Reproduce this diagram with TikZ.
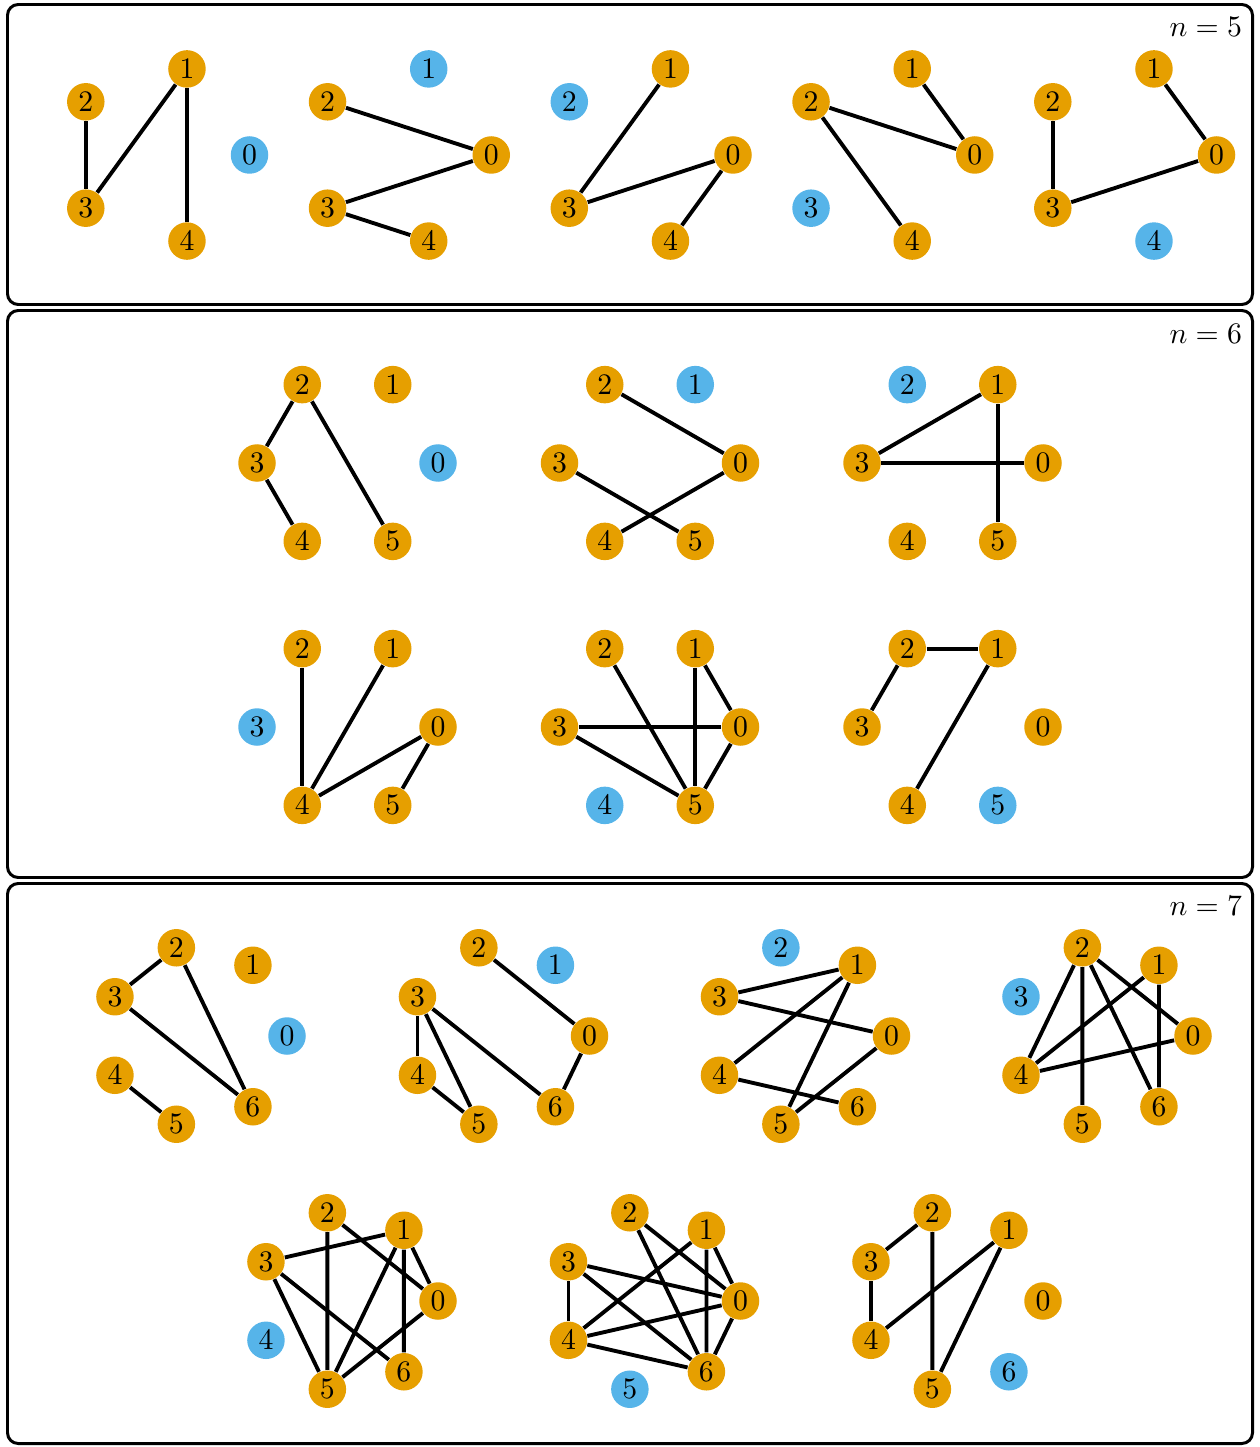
\documentclass[tikz,border=0pt]{standalone}
\usetikzlibrary{calc}
\definecolor{vorange}{HTML}{E69F00}
\definecolor{vblue}{HTML}{56B4E9}
\tikzset{
  ov/.style={circle, fill=vorange, inner sep=0pt, minimum size=12.6pt},
  bv/.style={circle, fill=vblue, inner sep=0pt, minimum size=12.6pt},
  edge/.style={line width=1.3pt, black},
  frame/.style={line width=1pt, rounded corners=3.6pt},
  lab/.style={anchor=north east, inner sep=0pt}
}
\newcommand\graphat[6]{%
  \begin{scope}[shift={(#1,#2)}, name prefix=#5-]
    \pgfmathtruncatemacro\nmax{#3-1}
    \foreach \i in {0,...,\nmax} {
      \ifnum\i=#4\relax
        \node[bv] (\i) at ({-360*\i/#3}:90.5) {$\i$};
      \else
        \node[ov] (\i) at ({-360*\i/#3}:90.5) {$\i$};
      \fi
    }
    \foreach \p/\q in {#6} \draw[edge] (\p) -- (\q);
  \end{scope}}
\begin{document}
\begin{tikzpicture}[x=0.336pt, y=-0.336pt]
\useasboundingbox (0,0) rectangle (1259,1447);
% frames
\draw[frame] (7.5,4.5) rectangle (1252.5,304.5);
\draw[frame] (7.5,310.5) rectangle (1252.5,877.5);
\draw[frame] (7.5,883.5) rectangle (1252.5,1443.5);
\node[lab] (l5) at (1242.5,16.5) {$n=5$};
\node[lab] (l6) at (1242.5,323.5) {$n=6$};
\node[lab] (l7) at (1242.5,896) {$n=7$};
% n = 5
\graphat{159}{155}{5}{0}{a}{2/3,3/1,1/4}
\graphat{400.75}{155}{5}{1}{b}{2/0,0/3,3/4}
\graphat{642.5}{155}{5}{2}{c}{1/3,3/0,0/4}
\graphat{884.25}{155}{5}{3}{d}{2/0,1/0,2/4}
\graphat{1126}{155}{5}{4}{e}{2/3,3/0,0/1}
% n = 6
\graphat{347.5}{463}{6}{0}{f}{2/3,3/4,2/5}
\graphat{650}{463}{6}{1}{g}{2/0,3/5,0/4}
\graphat{952.5}{463}{6}{2}{h}{3/1,3/0,1/5}
\graphat{347.5}{727}{6}{3}{i}{2/4,1/4,4/0,0/5}
\graphat{650}{727}{6}{4}{j}{2/5,1/5,1/0,3/0,3/5,0/5}
\graphat{952.5}{727}{6}{5}{k}{2/1,2/3,1/4}
% n = 7
\graphat{196.5}{1036}{7}{0}{m}{2/3,3/6,2/6,4/5}
\graphat{499}{1036}{7}{1}{p}{2/0,0/6,3/4,3/5,3/6,4/5}
\graphat{801}{1036}{7}{2}{q}{3/1,3/0,1/4,1/5,0/5,4/6}
\graphat{1102.5}{1036}{7}{3}{r}{2/4,2/5,2/6,2/0,1/4,1/6,4/0}
\graphat{347.5}{1301}{7}{4}{s}{3/1,2/5,2/0,1/0,1/5,1/6,3/5,3/6,0/5}
\graphat{650}{1301}{7}{5}{t}{2/0,2/6,1/4,1/6,1/0,3/0,3/6,3/4,4/0,4/6,0/6}
\graphat{952.5}{1301}{7}{6}{u}{2/3,3/4,2/5,1/4,1/5}
\end{tikzpicture}
\end{document}
